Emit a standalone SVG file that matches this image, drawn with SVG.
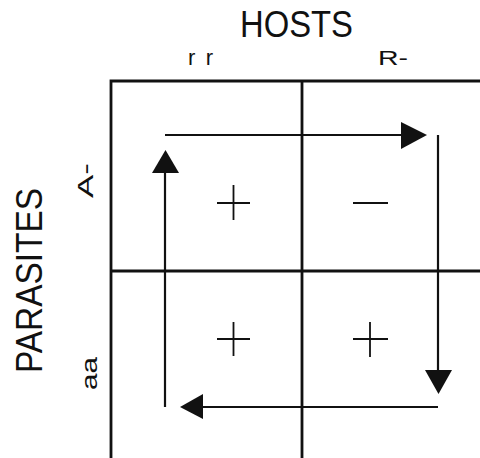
<svg xmlns="http://www.w3.org/2000/svg" width="480" height="458" viewBox="0 0 480 458">
<style>
.grid{stroke:#111;stroke-width:2.8;fill:none}
.arr{stroke:#111;stroke-width:2.2;fill:none}
.head{fill:#111}
.sign{stroke:#111;stroke-width:1.8;fill:none}
text{font-family:"Liberation Sans",Arial,sans-serif;fill:#111}
</style>
<rect width="480" height="458" fill="#fff"/>
<g id="labels">
<text x="296.5" y="37" font-size="36" text-anchor="middle" textLength="113" lengthAdjust="spacingAndGlyphs">HOSTS</text>
<text x="200.5" y="65" font-size="22" text-anchor="middle" textLength="25" lengthAdjust="spacing">r r</text>
<text x="393" y="65" font-size="21" text-anchor="middle" textLength="30" lengthAdjust="spacingAndGlyphs">R-</text>
<text transform="translate(42,280.5) rotate(-90)" font-size="37" text-anchor="middle" textLength="185" lengthAdjust="spacingAndGlyphs">PARASITES</text>
<text transform="translate(93,180.5) rotate(-90)" font-size="22" text-anchor="middle" textLength="35" lengthAdjust="spacingAndGlyphs">A-</text>
<text transform="translate(97,373.5) rotate(-90)" font-size="22" text-anchor="middle" textLength="33" lengthAdjust="spacingAndGlyphs">aa</text>
</g>
<g id="grid">
<path class="grid" d="M111,458 V81 H480 M302,81 V458 M111,271 H480"/>
</g>
<g id="cells">
<g id="cell-A-rr"><path class="sign" d="M217,203 H250 M233.5,185 V220"/></g>
<g id="cell-A-R"><path class="sign" d="M353,203 H388"/></g>
<g id="cell-aa-rr"><path class="sign" d="M217,339 H250 M233.5,322 V356"/></g>
<g id="cell-aa-R"><path class="sign" d="M353,339 H388 M370,322 V357"/></g>
</g>
<g id="connectors">
<path class="arr" d="M165,135 H403"/>
<polygon class="head" points="401,122 427,135 401,149"/>
<path class="arr" d="M438,135 V372"/>
<polygon class="head" points="425,370 452,370 438.5,394"/>
<path class="arr" d="M438,407 H201"/>
<polygon class="head" points="203,394 180,407 203,419"/>
<path class="arr" d="M165,407 V171"/>
<polygon class="head" points="152,173 179,173 165.5,150"/>
</g>
</svg>
